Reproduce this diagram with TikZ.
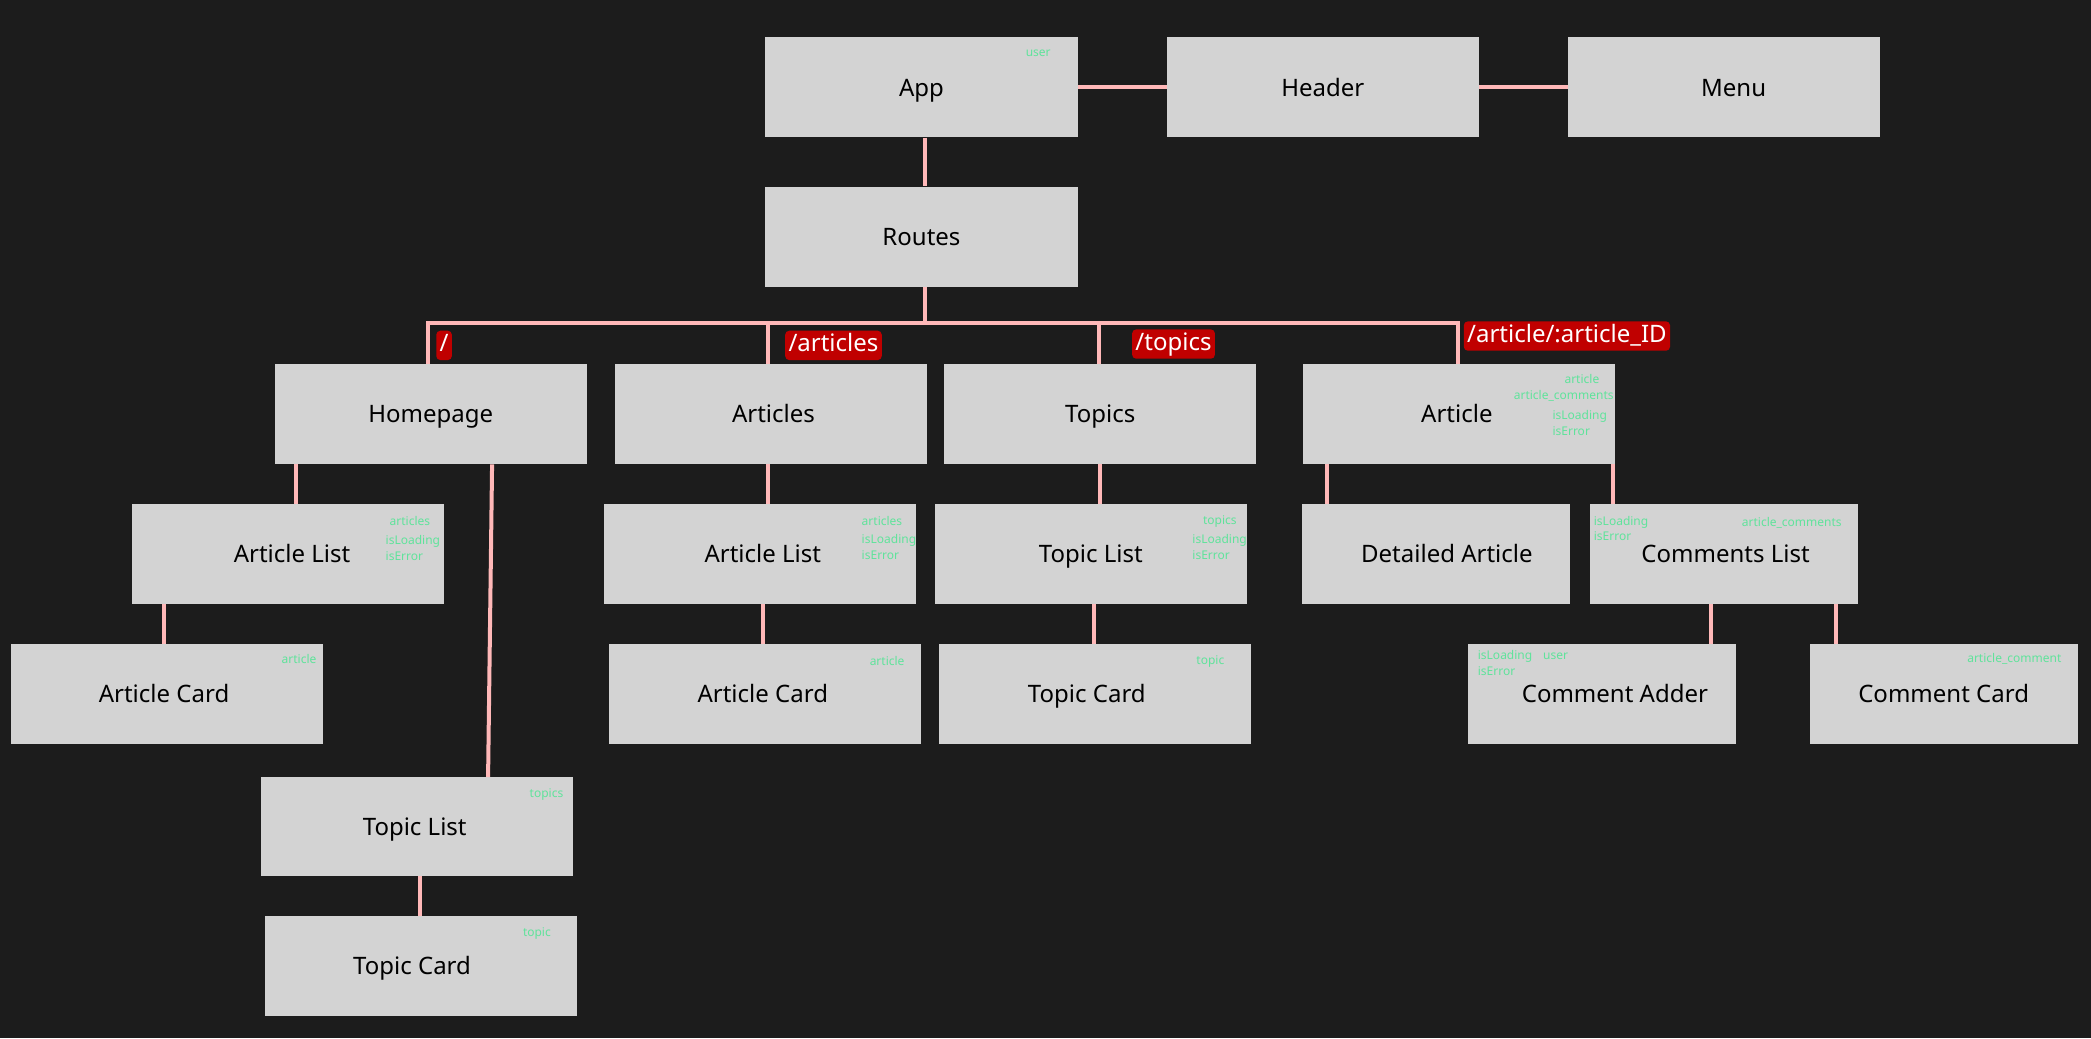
\documentclass[tikz,border=0pt]{standalone}
\usepackage{fontspec}
\setmainfont{Noto Sans}
\definecolor{bgc}{HTML}{1C1C1C}
\definecolor{boxc}{HTML}{D3D3D3}
\definecolor{connc}{HTML}{FFB8B8}
\definecolor{routec}{HTML}{C00000}
\definecolor{greenc}{HTML}{5FE39B}
\begin{document}
\begin{tikzpicture}[x=1pt,y=-1pt,
  box/.style={fill=boxc,draw=none,minimum width=234pt,minimum height=75pt,inner sep=0pt,
    text height=13pt,text depth=0pt,font=\fontsize{18}{22}\selectfont,text=black},
  narrow/.style={minimum width=201pt},
  conn/.style={draw=connc,line width=3pt},
  route/.style={fill=routec,text=white,font=\fontsize{18}{20}\selectfont,inner sep=2.5pt,
    text height=13pt,text depth=4pt,rounded corners=3pt},
  glab/.style={text=greenc,font=\fontsize{9}{10}\selectfont,inner sep=0pt,anchor=west}]
\fill[bgc] (0,0) rectangle (1568,778.4);
\useasboundingbox (0,0) rectangle (1568,778.4);

% boxes
\node[box] (app) at (691,65.5) {App};
\node[box] (header) at (992,65.5) {Header};
\node[box] (menu) at (1293,65.5) {\hspace*{14pt}Menu};
\node[box] (routes) at (691,177.5) {Routes};
\node[box] (home) at (323,310.5) {Homepage};
\node[box] (articles) at (578,310.5) {\hspace*{4pt}Articles};
\node[box] (topics) at (825,310.5) {Topics};
\node[box] (article) at (1094,310.5) {Article\hspace*{3pt}};
\node[box] (alistL) at (216,415.5) {\hspace*{6pt}Article List};
\node[box] (alistM) at (570,415.5) {\hspace*{4pt}Article List};
\node[box] (tlistM) at (818,415.5) {Topic List};
\node[box,narrow] (detailed) at (1076.5,415.5) {\hspace*{17pt}Detailed Article};
\node[box,narrow] (comlist) at (1292.5,415.5) {\hspace*{3pt}Comments List};
\node[box] (acardL) at (125,520.5) {Article Card\hspace*{4pt}};
\node[box] (acardM) at (574,520.5) {Article Card\hspace*{4pt}};
\node[box] (tcardM) at (821,520.5) {Topic Card\hspace*{12pt}};
\node[box,narrow] (cadder) at (1201.5,520.5) {\hspace*{19pt}Comment Adder};
\node[box,narrow] (ccard) at (1457.5,520.5) {Comment Card};
\node[box,minimum height=74pt] (tlistL) at (313,620) {Topic List\hspace*{4pt}};
\node[box] (tcardL) at (316,724.5) {Topic Card\hspace*{14pt}};

% connectors
\draw[conn] (app.east) -- (header.west);
\draw[conn] (header.east) -- (menu.west);
\draw[conn] ([xshift=3pt]app.south) -- ([xshift=3pt]routes.north);
\coordinate (bus) at (694,242);
\draw[conn] ([xshift=3pt]routes.south) -- (bus);
\draw[conn] ([xshift=-2pt]home.north) |- (bus);
\draw[conn] ([xshift=-1pt]article.north) |- (bus);
\draw[conn] ([xshift=-2pt]articles.north) -- ([xshift=-2pt]articles.north |- bus);
\draw[conn] ([xshift=-1pt]topics.north) -- ([xshift=-1pt]topics.north |- bus);
\draw[conn] ([xshift=-101pt]home.south) -- ([xshift=-101pt]home.south |- alistL.north);
\draw[conn] ([xshift=46pt]home.south) -- ([xshift=53pt]tlistL.north);
\draw[conn] ([xshift=-93pt]alistL.south) -- ([xshift=-93pt]alistL.south |- acardL.north);
\draw[conn] ([xshift=2pt]tlistL.south) -- ([xshift=2pt]tlistL.south |- tcardL.north);
\draw[conn] ([xshift=-2pt]articles.south) -- ([xshift=-2pt]articles.south |- alistM.north);
\draw[conn] ([xshift=2pt]alistM.south) -- ([xshift=2pt]alistM.south |- acardM.north);
\draw[conn] (topics.south) -- (topics.south |- tlistM.north);
\draw[conn] ([xshift=2pt]tlistM.south) -- ([xshift=2pt]tlistM.south |- tcardM.north);
\draw[conn] ([xshift=-99pt]article.south) -- ([xshift=-99pt]article.south |- detailed.north);
\draw[conn] ([xshift=-2pt]article.south east) -- ([xshift=-2pt]article.south east |- comlist.north);
\draw[conn] ([xshift=-9.5pt]comlist.south) -- ([xshift=-9.5pt]comlist.south |- cadder.north);
\draw[conn] ([xshift=84.5pt]comlist.south) -- ([xshift=84.5pt]comlist.south |- ccard.north);

% route labels
\node[route] (r1) at (333,259) {/};
\node[route] (r2) at (625,259) {/articles};
\node[route] (r3) at (880,258) {/topics};
\node[route] (r4) at (1175,252) {/article/:article\_ID};

% green labels
\node[glab] (g1) at (769,40) {user};
\node[glab] (g2) at (292,391) {articles};
\node[glab] (g3) at (289,406) {isLoading};
\node[glab] (g4) at (289,417) {isError};
\node[glab] (g5) at (646,391) {articles};
\node[glab] (g6) at (646,405) {isLoading};
\node[glab] (g7) at (646,416) {isError};
\node[glab] (g8) at (902,391) {topics};
\node[glab] (g9) at (894,405) {isLoading};
\node[glab] (g10) at (894,416) {isError};
\node[glab] (g11) at (1173,284) {article};
\node[glab] (g12) at (1135,297) {article\_comments};
\node[glab] (g13) at (1164,312) {isLoading};
\node[glab] (g14) at (1164,323) {isError};
\node[glab] (g15) at (1195,392) {isLoading};
\node[glab] (g16) at (1195,402) {isError};
\node[glab] (g17) at (1306,392) {article\_comments};
\node[glab] (g18) at (211,494) {article};
\node[glab] (g19) at (652,496) {article};
\node[glab] (g20) at (897,496) {topic};
\node[glab] (g21) at (1108,492) {isLoading};
\node[glab] (g22) at (1108,503) {isError};
\node[glab] (g23) at (1157,492) {user};
\node[glab] (g24) at (1475,494) {article\_comment};
\node[glab] (g25) at (397,596) {topics};
\node[glab] (g26) at (392,700) {topic};
\end{tikzpicture}
\end{document}
